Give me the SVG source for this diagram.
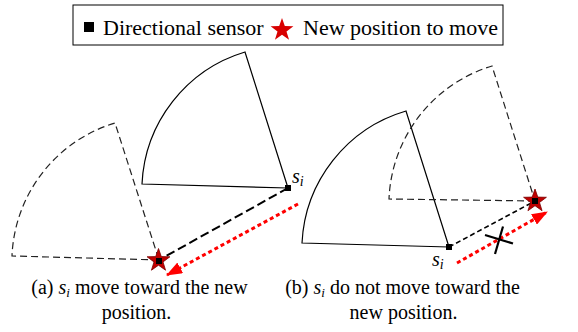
<svg xmlns="http://www.w3.org/2000/svg" width="578" height="332" viewBox="0 0 578 332">
<style>
.lg{font-size:22px}
.cap{font-size:20px}
.lbl{font-size:20px}
.it{font-style:italic}
.sector{fill:none;stroke:#000;stroke-width:1.2}
.dsector{fill:none;stroke:#222;stroke-width:1.2;stroke-dasharray:7,4}
.sq{fill:#000}
.star{fill:#C00000;stroke:#7a0000;stroke-width:0.8}
.path1{stroke:#000;stroke-width:2;stroke-dasharray:9,4;fill:none}
.path2{stroke:#000;stroke-width:1.6;stroke-dasharray:5,3;fill:none}
.move{stroke:#ff0000;stroke-width:3;stroke-dasharray:4,3;fill:none}
</style>
<defs>
<polygon id="starShape" points="0,-12 2.8,-3.9 11.41,-3.71 4.5,1.46 7.05,9.71 0,4.7 -7.05,9.71 -4.5,1.46 -11.41,-3.71 -2.8,-3.9"/>
<marker id="arr" viewBox="0 0 16 12" refX="15" refY="6" markerWidth="16" markerHeight="12" markerUnits="userSpaceOnUse" orient="auto">
<path d="M0,0 L16,6 L0,12 Z" fill="#ff0000"/>
</marker>
</defs>

<g id="legend">
<rect x="73" y="5" width="430" height="40" fill="#fff" stroke="#000" stroke-width="1"/>
<rect x="84" y="22" width="10" height="10" class="sq"/>
<text class="lg" x="103" y="34.5" font-family="Liberation Serif">Directional sensor</text>
<use href="#starShape" transform="translate(282,30)" fill="#D80000"/>
<text class="lg" x="303" y="34.5" font-family="Liberation Serif">New position to move</text>
</g>

<g id="left-current-sector">
<path class="sector" d="M288,188 L142,184 A145,145 0 0 1 245,52 Z"/>
</g>
<g id="left-new-sector">
<path class="dsector" d="M159,260 L12,256 A145,145 0 0 1 115,123 Z"/>
</g>
<g id="right-current-sector">
<path class="sector" d="M449,247 L302,243 A145,145 0 0 1 406,111 Z"/>
</g>
<g id="right-new-sector">
<path class="dsector" d="M535,201 L389,199 A145,145 0 0 1 492,66 Z"/>
</g>

<g id="connectors">
<line class="path1" x1="288" y1="188" x2="159" y2="260"/>
<line class="move" x1="298" y1="204" x2="167" y2="275" marker-end="url(#arr)"/>
<line class="path2" x1="449" y1="247" x2="535" y2="201"/>
<line class="move" x1="457" y1="263" x2="547" y2="212" marker-end="url(#arr)"/>
</g>

<g id="left-sensor">
<rect x="285" y="185" width="6" height="6" class="sq"/>
<text class="lbl" x="292" y="183" font-family="Liberation Serif"><tspan class="it">s</tspan><tspan class="it" font-size="14" dy="3">i</tspan></text>
</g>
<g id="left-new-position">
<use href="#starShape" transform="translate(158.5,260.5)" class="star"/>
<rect x="156" y="258" width="6" height="6" class="sq"/>
</g>

<g id="right-sensor">
<rect x="446" y="244" width="6" height="6" class="sq"/>
<text class="lbl" x="432" y="266" font-family="Liberation Serif"><tspan class="it">s</tspan><tspan class="it" font-size="14" dy="3">i</tspan></text>
</g>
<g id="right-new-position">
<use href="#starShape" transform="translate(535,201)" class="star"/>
<rect x="532" y="198" width="6" height="6" class="sq"/>
</g>

<g id="blocked-mark" stroke="#000" stroke-width="2.2">
<line x1="485" y1="235" x2="513" y2="243.5"/>
<line x1="503" y1="226.5" x2="495" y2="254"/>
</g>

<g id="caption-a">
<text class="cap" x="139.5" y="294" text-anchor="middle" font-family="Liberation Serif">(a) <tspan class="it">s</tspan><tspan class="it" font-size="13" dy="3">i</tspan><tspan dy="-3"> move toward the new</tspan></text>
<text class="cap" x="136.5" y="319" text-anchor="middle" font-family="Liberation Serif">position.</text>
</g>
<g id="caption-b">
<text class="cap" x="402.5" y="294" text-anchor="middle" font-family="Liberation Serif">(b) <tspan class="it">s</tspan><tspan class="it" font-size="13" dy="3">i</tspan><tspan dy="-3"> do not move toward the</tspan></text>
<text class="cap" x="403.5" y="319" text-anchor="middle" font-family="Liberation Serif">new position.</text>
</g>
</svg>
